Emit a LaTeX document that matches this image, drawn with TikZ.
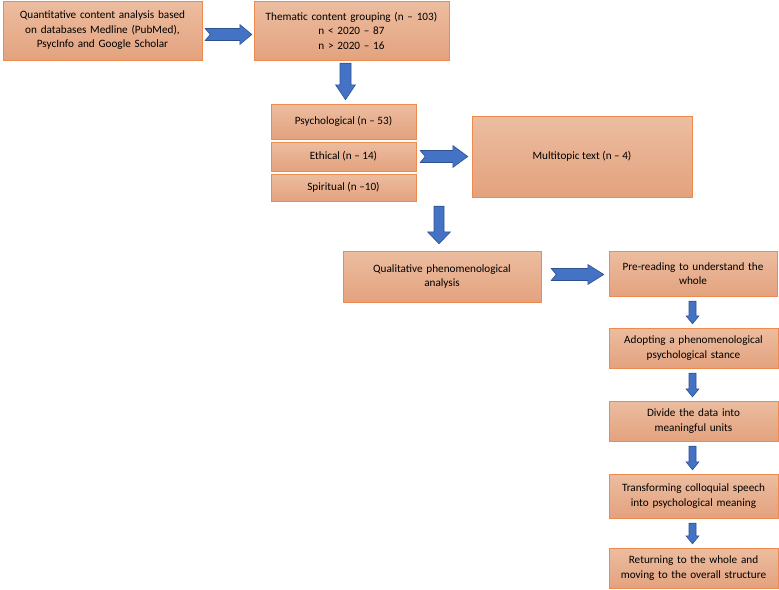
\documentclass[tikz,border=0pt]{standalone}
\usepackage{fontspec}
\setmainfont{Carlito}
\usepackage{tikz}
\usetikzlibrary{calc}

\definecolor{boxtop}{HTML}{ECBDA0}
\definecolor{boxbot}{HTML}{E3A27E}
\definecolor{boxedge}{HTML}{EE8A4E}
\definecolor{arrowblue}{HTML}{4472C4}
\definecolor{arrowedge}{HTML}{2F528F}

\begin{document}
\begin{tikzpicture}[x=1pt,y=-1pt,
	every node/.style={rectangle,draw=boxedge,top color=boxtop,bottom color=boxbot,
		inner sep=0pt,align=center,font=\fontsize{11.2}{14.5}\selectfont},
	rarrow/.style n args={3}{fill=arrowblue,draw=arrowedge,line width=0.6pt,to path={
		let \p1=(\tikztostart), \p2=(\tikztotarget) in
		(\x1,\y1+#1) -- (\x2-#3,\y1+#1) -- (\x2-#3,\y1+#2) -- (\x2,\y1)
		-- (\x2-#3,\y1-#2) -- (\x2-#3,\y1-#1) -- (\x1,\y1-#1) -- (\x1+5pt,\y1) -- cycle}},
	darrow/.style n args={3}{fill=arrowblue,draw=arrowedge,line width=0.6pt,to path={
		let \p1=(\tikztostart), \p2=(\tikztotarget) in
		(\x2-#1,\y1) -- (\x2-#1,\y2+#3) -- (\x2-#2,\y2+#3) -- (\x2,\y2)
		-- (\x2+#2,\y2+#3) -- (\x2+#1,\y2+#3) -- (\x2+#1,\y1) -- cycle}}]
	\useasboundingbox (0,0) rectangle (779,589);

	\node (quant) at (102.5,30.5) [minimum width=199pt,minimum height=59pt,text width=190pt]
		{Quantitative content analysis based\\ on databases Medline (PubMed),\\ PsycInfo and Google Scholar};
	\node (them) at (351.5,30.5) [minimum width=195pt,minimum height=59pt,text width=190pt]
		{Thematic content grouping (n -- 103)\\ n < 2020 -- 87\\ n > 2020 -- 16};
	\node (psy) at (343.5,121.5) [minimum width=145pt,minimum height=35pt] {Psychological (n -- 53)};
	\node (eth) at (343.5,156.5) [minimum width=145pt,minimum height=29pt] {Ethical (n -- 14)};
	\node (spi) at (343.5,187.5) [minimum width=145pt,minimum height=27pt] {Spiritual (n --10)};
	\node (multi) at (582,156.5) [minimum width=220pt,minimum height=81pt] {Multitopic text (n -- 4)};
	\node (qual) at (442,276.5) [minimum width=198pt,minimum height=51pt,text width=185pt]
		{Qualitative phenomenological\\ analysis};
	\node (pre) at (693,273.5) [minimum width=168pt,minimum height=45pt,text width=165pt]
		{Pre-reading to understand the\\ whole};
	\node (adopt) at (693.5,348) [minimum width=169pt,minimum height=40pt,text width=166pt]
		{Adopting a phenomenological\\ psychological stance};
	\node (div) at (693.5,421) [minimum width=169pt,minimum height=40pt,text width=166pt]
		{Divide the data into\\ meaningful units};
	\node (trans) at (693.5,496) [minimum width=169pt,minimum height=44pt,text width=166pt]
		{Transforming colloquial speech\\ into psychological meaning};
	\node (ret) at (693.5,568) [minimum width=169pt,minimum height=40pt,text width=166pt]
		{Returning to the whole and\\ moving to the overall structure};

	\draw[rarrow={6pt}{10pt}{12pt}] ([xshift=3pt,yshift=-4pt]quant.east) to ([xshift=-2pt]them.west);
	\draw[darrow={5.5pt}{10pt}{15pt}] ([yshift=-3pt]them.south) to ([xshift=2pt,yshift=4pt]psy.north);
	\draw[rarrow={6pt}{11pt}{15pt}] ([xshift=4pt]eth.east) to ([xshift=-4pt]multi.west);
	\draw[darrow={5pt}{11.5pt}{12pt}] ([yshift=-5pt]spi.south) to ([xshift=-3pt,yshift=7pt]qual.north);
	\draw[rarrow={6pt}{10pt}{16pt}] ([xshift=10pt,yshift=2pt]qual.east) to ([xshift=-5pt]pre.west);

	\foreach \from/\to in {pre/adopt,adopt/div,div/trans,trans/ret}
		\draw[darrow={3.5pt}{6.5pt}{8pt}] ([yshift=-5pt]\from.south) to ([xshift=-1pt,yshift=4pt]\to.north);

\end{tikzpicture}
\end{document}
